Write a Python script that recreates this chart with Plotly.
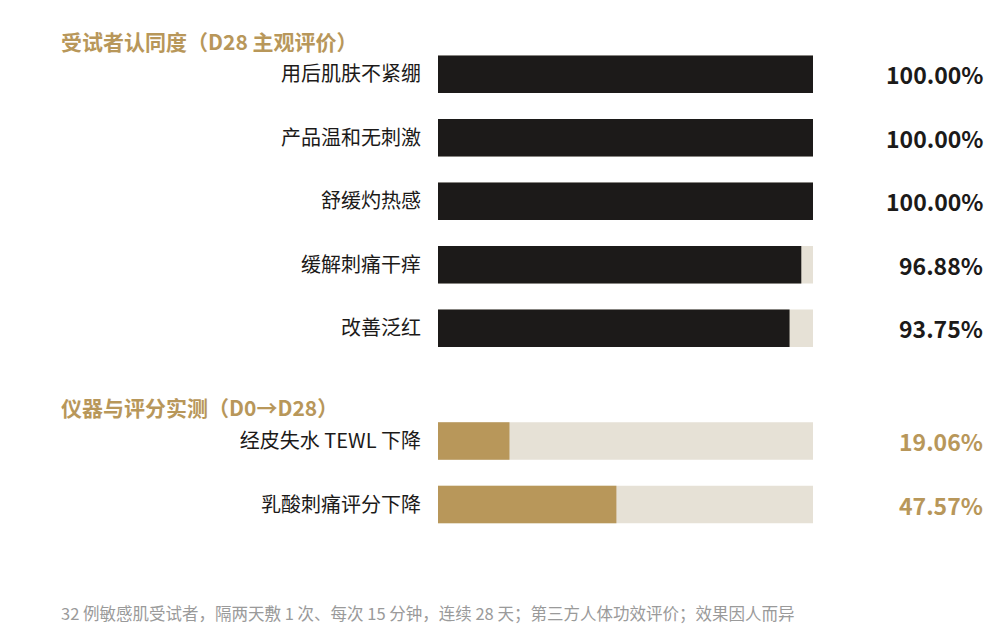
import plotly.graph_objects as go

# 受试者认同度 (D28)
subjective_labels = ["用后肌肤不紧绷", "产品温和无刺激", "舒缓灼热感", "缓解刺痛干痒", "改善泛红"]
subjective_values = [100.00, 100.00, 100.00, 96.88, 93.75]

# 仪器与评分实测 (D0→D28)
measured_labels = ["经皮失水 TEWL 下降", "乳酸刺痛评分下降"]
measured_values = [19.06, 47.57]

section_titles = ["受试者认同度（D28 主观评价）", "仪器与评分实测（D0→D28）"]
footnote = "32 例敏感肌受试者，隔两天敷 1 次、每次 15 分钟，连续 28 天；第三方人体功效评价；效果因人而异"

# page body has an 8px margin, so the figure is drawn slightly smaller and offset
OFF = 8
W, H = 1000 - OFF, 644 - OFF
BLACK = "#1c1a19"
GOLD = "#b8975a"
TRACK = "#e6e1d6"
FONT = "Noto Sans CJK SC"

ROW = 63.5      # px between row centres
BAR_H = 37.5    # bar thickness in px


def px_x(x):
    return (x - OFF) / W


def px_y(y):
    return 1 - (y - OFF) / H


def domain(first_center, n):
    top = first_center - ROW / 2
    bottom = first_center + ROW * (n - 1) + ROW / 2
    return [px_y(bottom), px_y(top)]


fig = go.Figure()

groups = [
    (subjective_labels, subjective_values, BLACK, "y"),
    (measured_labels, measured_values, GOLD, "y2"),
]

for labels, values, color, yref in groups:
    fig.add_trace(go.Bar(
        y=labels, x=[100] * len(labels), orientation="h",
        marker=dict(color=TRACK, line_width=0), yaxis=yref,
        hoverinfo="skip", showlegend=False,
    ))
    fig.add_trace(go.Bar(
        y=labels, x=values, orientation="h",
        marker=dict(color=color, line_width=0), yaxis=yref,
        showlegend=False,
    ))
    for lab, v in zip(labels, values):
        fig.add_annotation(
            x=px_x(985), xref="paper", xanchor="right",
            y=lab, yref=yref, yanchor="middle",
            text=f"<b>{v:.2f}%</b>", showarrow=False,
            font=dict(family=FONT, size=23, color=color),
        )

gap = 1 - BAR_H / ROW
yaxis_common = dict(
    type="category", autorange="reversed", showgrid=False, zeroline=False,
    showline=False, ticks="", ticklabelstandoff=16,
    tickfont=dict(family=FONT, size=20, color=BLACK),
)

fig.update_layout(
    width=W, height=H,
    margin=dict(l=0, r=0, t=0, b=0),
    paper_bgcolor="white", plot_bgcolor="white",
    barmode="overlay", bargap=gap,
    xaxis=dict(domain=[px_x(438), px_x(813)], range=[0, 100], visible=False, fixedrange=True),
    yaxis=dict(domain=domain(74.3, len(subjective_labels)), **yaxis_common),
    yaxis2=dict(domain=domain(441.0, len(measured_labels)), anchor="x", **yaxis_common),
    font=dict(family=FONT),
)

for title, ypx in zip(section_titles, [41, 407]):
    fig.add_annotation(
        x=px_x(59), xref="paper", xanchor="left",
        y=px_y(ypx), yref="paper", yanchor="middle",
        text=f"<b>{title}</b>", showarrow=False,
        font=dict(family=FONT, size=21, color=GOLD),
    )

fig.add_annotation(
    x=px_x(59), xref="paper", xanchor="left",
    y=px_y(613), yref="paper", yanchor="middle",
    text=footnote, showarrow=False,
    font=dict(family=FONT, size=16.5, color="#9a9a9a"),
)

fig.write_html("out.html")
